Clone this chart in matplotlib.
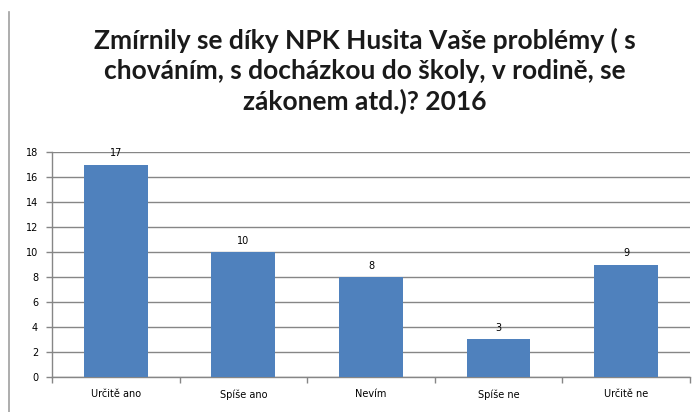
import matplotlib
matplotlib.use('Agg')
import matplotlib.pyplot as plt
from matplotlib.lines import Line2D
import numpy as np

# data
categories = ['Určitě ano', 'Spíše ano', 'Nevím', 'Spíše ne', 'Určitě ne']
counts = [17, 10, 8, 3, 9]
yticks = list(range(0, 19, 2))
title = ('Zmírnily se díky NPK Husita Vaše problémy ( s\n'
         'chováním, s docházkou do školy, v rodině, se\n'
         'zákonem atd.)? 2016')

BAR = '#4F81BD'
GRID = '#868686'

fig = plt.figure(figsize=(6.98, 4.12), dpi=100)
ax = fig.add_axes([0.0745, 0.085, 0.914, 0.546])

x = np.arange(len(categories))
ax.bar(x, counts, width=0.5, color=BAR, zorder=3)
for xi, v in zip(x, counts):
    ax.text(xi, v + 0.5, str(v), ha='center', va='bottom', fontsize=7,
            family='DejaVu Sans', zorder=4)

ax.set_xlim(-0.5, len(categories) - 0.5)
ax.set_ylim(0, 18)
ax.set_yticks(yticks)
ax.set_yticklabels([str(t) for t in yticks], fontsize=7, family='DejaVu Sans')
ax.yaxis.grid(True, color=GRID, lw=1, zorder=0)
ax.set_axisbelow(True)

# category labels centred, ticks at the boundaries
ax.set_xticks(x)
ax.set_xticklabels(categories, fontsize=7, family='DejaVu Sans')
ax.tick_params(axis='x', length=0, pad=9)
ax.set_xticks(np.arange(-0.5, len(categories)), minor=True)
ax.tick_params(axis='x', which='minor', length=4, color=GRID, width=1)
ax.tick_params(axis='y', length=4, color=GRID, width=1, pad=6)

for s in ['top', 'right']:
    ax.spines[s].set_visible(False)
for s in ['left', 'bottom']:
    ax.spines[s].set_color(GRID)
    ax.spines[s].set_linewidth(1)

fig.text(0.523, 0.828, title, ha='center', va='center', fontsize=19,
         fontweight='bold', family='Lato', linespacing=1.3, color='#1a1a1a')

# chart frame line at the left
fig.add_artist(Line2D([0.0135, 0.0135], [0.0, 0.97], color='#a0a0a0', lw=1.2))

fig.savefig('out.png', dpi=100)
